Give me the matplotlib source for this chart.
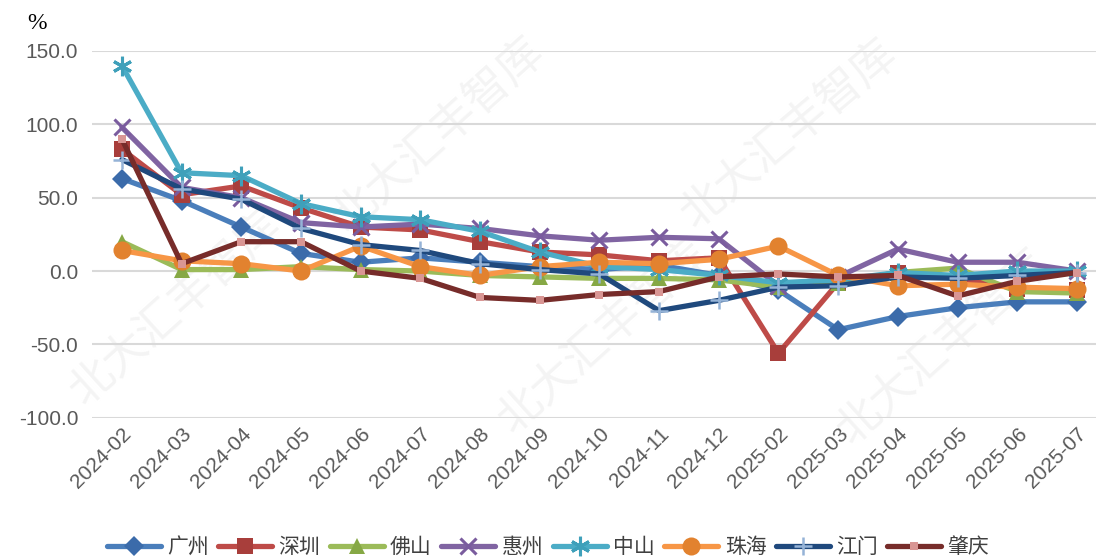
import matplotlib.pyplot as plt
import matplotlib as mpl

mpl.rcParams["font.family"] = ["Liberation Sans", "Noto Sans CJK SC", "DejaVu Sans"]
mpl.rcParams["axes.unicode_minus"] = False

months = ["2024-02", "2024-03", "2024-04", "2024-05", "2024-06", "2024-07",
          "2024-08", "2024-09", "2024-10", "2024-11", "2024-12", "2025-02",
          "2025-03", "2025-04", "2025-05", "2025-06", "2025-07"]

guangzhou = [63, 48, 30, 12, 6, 9, 6, 3, 1, 4, -3, -13, -40, -31, -25, -21, -21]
shenzhen = [83, 52, 58, 43, 30, 28, 20, 13, 11, 7, 9, -56, -8, -1, -5, -12, -13]
foshan = [20, 1, 1, 3, 1, 0, -3, -4, -5, -5, -6, -11, -8, -1, 2, -14, -15]
huizhou = [98, 57, 50, 33, 30, 32, 29, 24, 21, 23, 22, -10, -4, 15, 6, 6, 0]
zhongshan = [140, 67, 65, 46, 37, 35, 27, 13, 3, 1, -3, -8, -6, -1, -3, 0, 0]
zhuhai = [14, 7, 5, 0, 17, 3, -3, 3, 6, 5, 8, 17, -3, -10, -9, -11, -12]
jiangmen = [76, 56, 49, 29, 18, 14, 5, 1, -2, -27, -20, -11, -10, -4, -5, -3, -1]
zhaoqing = [90, 5, 20, 20, 0, -5, -18, -20, -16, -14, -4, -2, -4, -3, -17, -7, -1]

series = [
    ("广州", guangzhou, "#4A7EBB", "D", "#3B6BAA", 10, 0),
    ("深圳", shenzhen, "#BE4B48", "s", "#A83E3B", 11, 0),
    ("佛山", foshan, "#9BBB59", "^", "#86A845", 12, 0),
    ("惠州", huizhou, "#8064A2", "x", "#7A5C9E", 12, 2.2),
    ("中山", zhongshan, "#4BACC6", (6, 2, 0), "#3FA0BA", 14, 2.2),
    ("珠海", zhuhai, "#F79646", "o", "#E2822F", 13, 0),
    ("江门", jiangmen, "#1F497D", "+", "#95B3D7", 13, 1.8),
    ("肇庆", zhaoqing, "#772C2A", "s", "#D99694", 6, 0),
]

fig = plt.figure(figsize=(10.96, 5.6), dpi=100)

# faint watermark, drawn behind the plot
for (wx, wy, rot) in [(0.40, 0.76, 42), (0.72, 0.76, 40), (0.16, 0.45, 42), (0.55, 0.40, 42), (0.86, 0.38, 42)]:
    fig.text(wx, wy, "北大汇丰智库", fontsize=32, color="#F4F4F4", rotation=rot,
             ha="center", va="center", family=["Noto Sans CJK SC"], zorder=-5)

ax = fig.add_axes([0.084, 0.254, 0.916, 0.655])
ax.set_facecolor("none")

x = list(range(len(months)))
for name, vals, col, mk, mcol, ms, mew in series:
    ax.plot(x, vals, color=col, linewidth=3.8, marker=mk, markersize=ms,
            markerfacecolor=mcol, markeredgecolor=mcol, markeredgewidth=mew,
            label=name, solid_joinstyle="round", solid_capstyle="round", zorder=3)

ax.set_xlim(-0.5, 16.32)
ax.set_ylim(-100, 150)
ax.set_yticks([-100, -50, 0, 50, 100, 150])
ax.set_yticklabels([f"{v:.1f}" for v in [-100, -50, 0, 50, 100, 150]])
ax.set_xticks(x)
ax.set_xticklabels(months, rotation=45, ha="right", rotation_mode="anchor")
ax.tick_params(axis="both", length=0, labelsize=15, labelcolor="#595959")
ax.tick_params(axis="x", pad=5)
ax.tick_params(axis="y", pad=10)
ax.grid(axis="y", color="#D9D9D9", linewidth=1.5, zorder=0)
for s in ax.spines.values():
    s.set_visible(False)

fig.text(0.034, 0.958, "%", fontsize=17, family=["Liberation Serif"], ha="center", va="center")

leg = fig.legend(loc="center", bbox_to_anchor=(0.50, 0.023), ncol=8, frameon=False,
                 handlelength=2.6, handletextpad=0.3, columnspacing=0.45,
                 prop={"family": ["Noto Sans CJK SC"], "size": 15})
for t in leg.get_texts():
    t.set_color("#404040")

fig.savefig("out.png", dpi=100, facecolor="white")
